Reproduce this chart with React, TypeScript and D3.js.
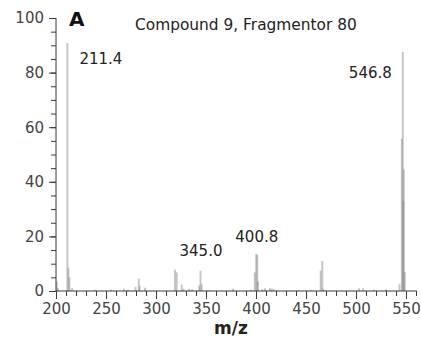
import * as d3 from "d3";
import { useEffect, useRef } from "react";

// peak list (m/z, relative intensity %)
const mzValues = [
  200.8, 202, 211.4, 212.4, 213.4, 216, 239, 255, 268, 272, 279.5, 282.8, 283.6, 289,
  318.9, 320.7, 325.7, 327.5, 333, 336, 343.2, 344.5, 345.6, 352, 377, 395,
  398.8, 400.2, 401.3, 401.9, 406, 409, 414, 416, 418, 442, 455,
  464.7, 466.3, 467.5, 503, 507, 518, 530,
  543.5, 545.8, 546.8, 547.3, 547.8, 548.8,
];
const intensities = [
  3.5, 1, 90.8, 8.5, 5, 1, 0.5, 0.5, 0.8, 0.5, 1.5, 4.5, 2, 1.2,
  7.8, 6.8, 2.4, 0.8, 0.8, 0.6, 2, 7.4, 2.5, 0.4, 0.8, 0.5,
  6.8, 13.6, 13.2, 3.5, 0.6, 1, 1, 0.8, 0.6, 0.4, 0.4,
  7.5, 11, 0.8, 1, 1, 0.5, 0.6,
  2.5, 55.8, 87.5, 33, 44.5, 7,
];
const peakLabels = ["211.4", "345.0", "400.8", "546.8"];
const peakLabelMz = [211.4, 345.0, 400.8, 546.8];
const peakLabelY = [83, 13, 18, 78];
const xTicks = [200, 250, 300, 350, 400, 450, 500, 550];
const yTicks = [0, 20, 40, 60, 80, 100];

const Spectrum = () => {
  const svgRef = useRef<SVGSVGElement>(null);

  const renderSVG = () => {
    const dims = { width: 421, height: 342, margin: { top: 18, left: 56, right: 4, bottom: 51 } };
    const innerH = dims.height - dims.margin.top - dims.margin.bottom;

    const x = d3.scaleLinear([200, 561], [0, 361]);
    const y = d3.scaleLinear([0, 100], [innerH, 0]);

    svgRef.current!.innerHTML = "";
    const root = d3
      .select(svgRef.current)
      .attr("width", dims.width)
      .attr("height", dims.height)
      .attr("viewBox", [0, 0, dims.width, dims.height] as any);

    root.append("rect").attr("width", dims.width).attr("height", dims.height).attr("fill", "white");

    const svg = root.append("g").attr("transform", `translate(${dims.margin.left},${dims.margin.top})`);
    const font = "DejaVu Sans";
    const axisColor = "#3a3a3a";

    // bars
    svg
      .append("g")
      .selectAll("line")
      .data(mzValues)
      .enter()
      .append("line")
      .attr("x1", (d) => x(d))
      .attr("x2", (d) => x(d))
      .attr("y1", y(0))
      .attr("y2", (d, i) => y(intensities[i]))
      .attr("stroke", "#8a8a8a")
      .attr("stroke-opacity", 0.5)
      .attr("stroke-width", 1.9);

    // x axis
    svg
      .append("g")
      .attr("transform", `translate(0,${innerH})`)
      .call(d3.axisBottom(x).tickValues(d3.range(200, 561, 10)).tickSize(5).tickFormat(() => ""))
      .call((g) => {
        g.select("path.domain").remove();
        g.selectAll(".tick line").attr("stroke", axisColor);
      });
    svg
      .append("g")
      .attr("transform", `translate(0,${innerH})`)
      .call(d3.axisBottom(x).tickValues(xTicks).tickSize(8).tickPadding(4).tickFormat(d3.format("d")))
      .call((g) => {
        g.select("path.domain").attr("d", `M0,0H${x(561)}`).attr("stroke", axisColor);
        g.selectAll(".tick line").attr("stroke", axisColor);
        g.selectAll(".tick text").attr("font-size", 15).attr("font-family", font).attr("fill", "#444");
      });

    // y axis
    svg
      .append("g")
      .call(d3.axisLeft(y).tickValues(d3.range(0, 101, 5)).tickSize(5).tickFormat(() => ""))
      .call((g) => {
        g.select("path.domain").remove();
        g.selectAll(".tick line").attr("stroke", axisColor);
      });
    svg
      .append("g")
      .call(d3.axisLeft(y).tickValues(yTicks).tickSize(7).tickPadding(5))
      .call((g) => {
        g.select("path.domain").attr("d", `M0,0V${innerH}`).attr("stroke", axisColor);
        g.selectAll(".tick line").attr("stroke", axisColor);
        g.selectAll(".tick text").attr("font-size", 15).attr("font-family", font).attr("fill", "#444");
      });

    // peak labels
    svg
      .append("g")
      .selectAll("text")
      .data(peakLabels)
      .enter()
      .append("text")
      .attr("x", (d, i) => (i === 0 ? x(peakLabelMz[i]) + 12 : i === 3 ? x(peakLabelMz[i]) - 11 : x(peakLabelMz[i])))
      .attr("y", (d, i) => y(peakLabelY[i]))
      .attr("text-anchor", (d, i) => (i === 0 ? "start" : i === 3 ? "end" : "middle"))
      .attr("font-size", 15)
      .attr("font-family", font)
      .attr("fill", "#222")
      .text((d) => d);

    // panel letter and title
    root
      .append("text")
      .attr("x", 69)
      .attr("y", 26)
      .attr("font-size", 20)
      .attr("font-weight", "bold")
      .attr("font-family", font)
      .attr("fill", "#111")
      .text("A");
    root
      .append("text")
      .attr("x", 135)
      .attr("y", 30)
      .attr("font-size", 15.4)
      .attr("font-family", font)
      .attr("fill", "#222")
      .text("Compound 9, Fragmentor 80");

    // axis title
    root
      .append("text")
      .attr("x", 231)
      .attr("y", 334)
      .attr("text-anchor", "middle")
      .attr("font-size", 17)
      .attr("font-weight", "bold")
      .attr("font-family", font)
      .attr("fill", "#222")
      .text("m/z");
  };

  useEffect(() => {
    renderSVG();
  });

  return <svg ref={svgRef} style={{ position: "absolute", left: 0, top: 0 }} />;
};

export default function App() {
  return <Spectrum />;
}
